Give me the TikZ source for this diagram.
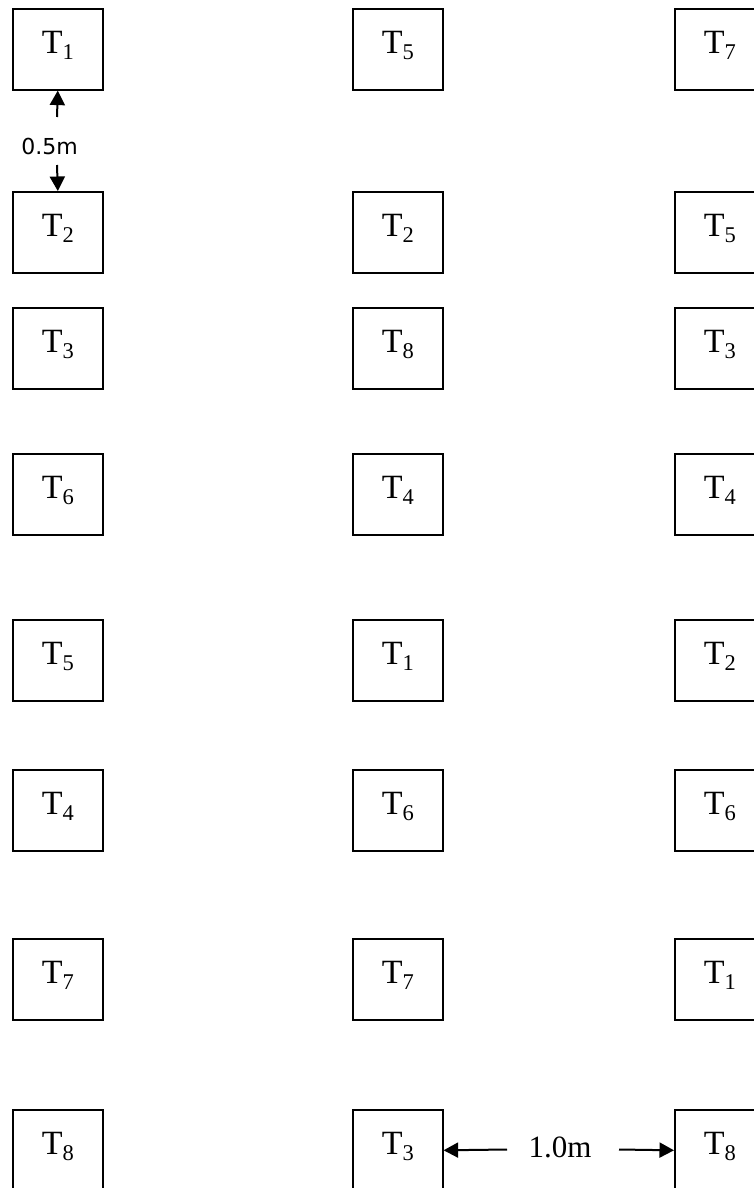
\documentclass[tikz,border=0pt]{standalone}
\usepackage{fontspec}
\setmainfont{Liberation Serif}
\newfontfamily\labsans{DejaVu Sans}
\usetikzlibrary{arrows.meta}
\newcommand{\tsub}[1]{T\raisebox{-6pt}{\fontsize{22.5}{22.5}\selectfont #1}}
\tikzset{
  tbox/.style={draw, line width=1.6pt, minimum width=90pt, minimum height=81pt,
    inner sep=0pt, anchor=north west, text height=23pt, text depth=14pt,
    font=\fontsize{34}{36}\selectfont},
  dimarrow/.style={line width=2pt, -{Triangle[length=14.5pt,width=15pt]}},
}
\begin{document}
\begin{tikzpicture}[x=1pt,y=-1pt]
\useasboundingbox (0,0) rectangle (754,1188);
\clip (0,0) rectangle (754,1188);
% column 1
\node[tbox] (a1) at (12,8) {\tsub{1}};
\node[tbox] (a2) at (12,191) {\tsub{2}};
\node[tbox] (a3) at (12,307) {\tsub{3}};
\node[tbox] (a4) at (12,453) {\tsub{6}};
\node[tbox] (a5) at (12,619) {\tsub{5}};
\node[tbox] (a6) at (12,769) {\tsub{4}};
\node[tbox] (a7) at (12,938) {\tsub{7}};
\node[tbox] (a8) at (12,1109) {\tsub{8}};
% column 2
\node[tbox] (b1) at (352,8) {\tsub{5}};
\node[tbox] (b2) at (352,191) {\tsub{2}};
\node[tbox] (b3) at (352,307) {\tsub{8}};
\node[tbox] (b4) at (352,453) {\tsub{4}};
\node[tbox] (b5) at (352,619) {\tsub{1}};
\node[tbox] (b6) at (352,769) {\tsub{6}};
\node[tbox] (b7) at (352,938) {\tsub{7}};
\node[tbox] (b8) at (352,1109) {\tsub{3}};
% column 3
\node[tbox] (c1) at (674,8) {\tsub{7}};
\node[tbox] (c2) at (674,191) {\tsub{5}};
\node[tbox] (c3) at (674,307) {\tsub{3}};
\node[tbox] (c4) at (674,453) {\tsub{4}};
\node[tbox] (c5) at (674,619) {\tsub{2}};
\node[tbox] (c6) at (674,769) {\tsub{6}};
\node[tbox] (c7) at (674,938) {\tsub{1}};
\node[tbox] (c8) at (674,1109) {\tsub{8}};
% 0.5m dimension
\node[font=\labsans\fontsize{22}{24}\selectfont, inner sep=0pt] (d05) at (49.5,146.5) {0.5m};
\coordinate (u0) at (57,117);
\coordinate (w0) at (57,165);
\draw[dimarrow] (u0) -- (a1.south);
\draw[dimarrow] (w0) -- (a2.north);
% 1.0m dimension
\node[font=\fontsize{31}{33}\selectfont, inner sep=0pt, anchor=base] (d10) at (560,1157) {1.0m};
\coordinate (l0) at (507,1149.5);
\coordinate (r0) at (619,1149.5);
\draw[dimarrow] (l0) -- (b8.east);
\draw[dimarrow] (r0) -- (c8.west);
\end{tikzpicture}
\end{document}
